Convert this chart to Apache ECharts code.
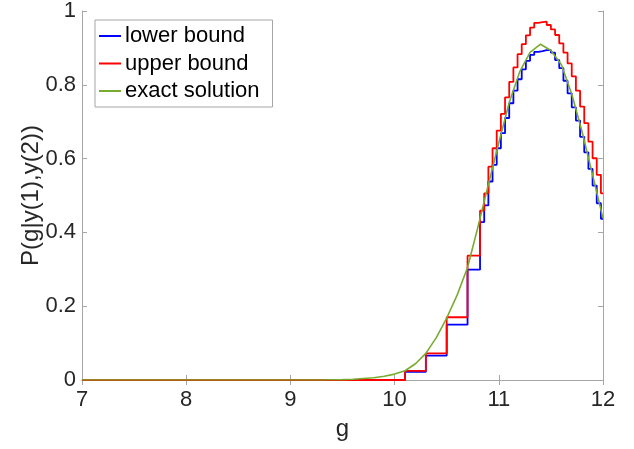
<!DOCTYPE html>
<html>
<head>
<meta charset="utf-8">
<script src="https://cdn.jsdelivr.net/npm/echarts@6/dist/echarts.min.js"></script>
<style>
  html, body { margin: 0; padding: 0; background: #fff; }
  #chart { width: 634px; height: 449px; }
</style>
</head>
<body>
<div id="chart"></div>
<script>
// bin edges of the bounds (g)
const edges = [7, 7.5, 8.5, 9.5, 10.1, 10.3, 10.5, 10.7, 10.82, 10.86, 10.9, 10.94, 10.98,
    11.02, 11.06, 11.1, 11.14, 11.18, 11.22, 11.26, 11.3, 11.34, 11.38, 11.42, 11.46, 11.5,
    11.54, 11.58, 11.62, 11.66, 11.7, 11.74, 11.78, 11.82, 11.86, 11.9, 11.94, 11.98, 12]

const lowerBound = [0, 0, 0, 0, 0.022, 0.066, 0.150, 0.299,
    0.428, 0.473, 0.538, 0.583, 0.628, 0.669, 0.710, 0.750, 0.784, 0.815,
    0.842, 0.865, 0.881, 0.889, 0.891, 0.894, 0.894, 0.887, 0.867, 0.845,
    0.811, 0.777, 0.739, 0.703, 0.659, 0.617, 0.572, 0.527, 0.479, 0.437]

const upperBound = [0, 0, 0, 0, 0.025, 0.072, 0.170, 0.337,
    0.459, 0.506, 0.578, 0.628, 0.676, 0.721, 0.766, 0.808, 0.847, 0.883,
    0.910, 0.934, 0.955, 0.968, 0.970, 0.971, 0.962, 0.950, 0.935, 0.912,
    0.887, 0.858, 0.823, 0.784, 0.741, 0.696, 0.646, 0.601, 0.556, 0.506]

// exact solution, sampled every 0.1
const gExact = [7.0, 7.1, 7.2, 7.3, 7.4, 7.5, 7.6, 7.7, 7.8, 7.9,
    8.0, 8.1, 8.2, 8.3, 8.4, 8.5, 8.6, 8.7, 8.8, 8.9,
    9.0, 9.1, 9.2, 9.3, 9.4, 9.5, 9.6, 9.7, 9.8, 9.9,
    10.0, 10.1, 10.2, 10.3, 10.4, 10.5, 10.6, 10.7, 10.8, 10.9,
    11.0, 11.1, 11.2, 11.3, 11.4, 11.5, 11.6, 11.7, 11.8, 11.9, 12.0]
const exact = [0, 0, 0, 0, 0, 0, 0, 0, 0, 0,
    0, 0, 0, 0, 0, 0, 0, 0, 0, 0,
    0, 0, 0, 0, 0.0005, 0.001, 0.002, 0.004, 0.006, 0.010,
    0.016, 0.025, 0.044, 0.072, 0.115, 0.168, 0.230, 0.305, 0.415, 0.530,
    0.643, 0.752, 0.835, 0.888, 0.910, 0.893, 0.855, 0.775, 0.672, 0.556, 0.438]

const xTicks = [7, 8, 9, 10, 11, 12]
const yTicks = [0, 0.2, 0.4, 0.6, 0.8, 1]

function stepData(vals) {
    return edges.map((e, i) => [e, vals[Math.min(i, vals.length - 1)]])
}

const font = 'Liberation Sans, Arial, Helvetica, sans-serif'
const axisGrey = '#a6a6a6'
const textCol = '#262626'

let chart = echarts.init(document.getElementById('chart'))
chart.setOption({
    animation: false,
    grid: {
        left: 82,
        right: 31,
        top: 10,
        bottom: 69,
        show: false
    },
    legend: {
        orient: 'vertical',
        left: 95,
        top: 20,
        padding: [5, 13, 5, 4],
        itemGap: 5.5,
        itemWidth: 22,
        itemHeight: 2,
        icon: 'rect',
        borderColor: axisGrey,
        borderWidth: 1,
        backgroundColor: '#fff',
        textStyle: {
            fontFamily: font,
            fontSize: 22,
            lineHeight: 22,
            color: '#000',
            padding: [0, 0, 0, -1]
        },
        data: ['lower bound', 'upper bound', 'exact solution']
    },
    xAxis: [{
        type: 'value',
        min: 7,
        max: 12,
        interval: 1,
        name: 'g',
        nameLocation: 'middle',
        nameGap: 37,
        nameMoveOverlap: false,
        nameTextStyle: { fontFamily: font, fontSize: 24, color: textCol },
        axisLine: { show: true, lineStyle: { color: axisGrey, width: 1 } },
        axisTick: { show: true, inside: true, length: 5, lineStyle: { color: axisGrey } },
        axisLabel: {
            fontFamily: font, fontSize: 22, color: textCol, margin: 9,
            formatter: v => xTicks.includes(v) ? String(v) : ''
        },
        splitLine: { show: false }
    }, {
        type: 'value',
        position: 'top',
        min: 7,
        max: 12,
        interval: 1,
        axisLine: { show: true, lineStyle: { color: axisGrey, width: 1 } },
        axisTick: { show: true, inside: true, length: 5, lineStyle: { color: axisGrey } },
        axisLabel: { show: false },
        splitLine: { show: false }
    }],
    yAxis: [{
        type: 'value',
        min: 0,
        max: 1,
        interval: 0.2,
        name: 'P(g|y(1),y(2))',
        nameLocation: 'middle',
        nameGap: 39,
        nameMoveOverlap: false,
        nameTextStyle: { fontFamily: font, fontSize: 24, color: textCol },
        axisLine: { show: true, lineStyle: { color: axisGrey, width: 1 } },
        axisTick: { show: true, inside: true, length: 5, lineStyle: { color: axisGrey } },
        axisLabel: {
            fontFamily: font, fontSize: 22, color: textCol, margin: 6,
            formatter: v => {
                let t = yTicks.find(y => Math.abs(y - v) < 1e-9)
                return t === undefined ? '' : String(t)
            }
        },
        splitLine: { show: false }
    }, {
        type: 'value',
        position: 'right',
        min: 0,
        max: 1,
        interval: 0.2,
        axisLine: { show: true, lineStyle: { color: axisGrey, width: 1 } },
        axisTick: { show: true, inside: true, length: 5, lineStyle: { color: axisGrey } },
        axisLabel: { show: false },
        splitLine: { show: false }
    }],
    series: [
        {
            name: 'lower bound',
            type: 'line',
            step: 'end',
            showSymbol: false,
            symbol: 'none',
            data: stepData(lowerBound),
            itemStyle: { color: '#0000ff' },
            lineStyle: { color: '#0000ff', width: 1.8 }
        },
        {
            name: 'upper bound',
            type: 'line',
            step: 'end',
            showSymbol: false,
            symbol: 'none',
            data: stepData(upperBound),
            itemStyle: { color: '#ff0000' },
            lineStyle: { color: '#ff0000', width: 1.8 }
        },
        {
            name: 'exact solution',
            type: 'line',
            showSymbol: false,
            symbol: 'none',
            data: gExact.map((g, i) => [g, exact[i]]),
            itemStyle: { color: '#77ac30' },
            lineStyle: { color: '#77ac30', width: 1.6 }
        }
    ]
})
</script>
</body>
</html>
